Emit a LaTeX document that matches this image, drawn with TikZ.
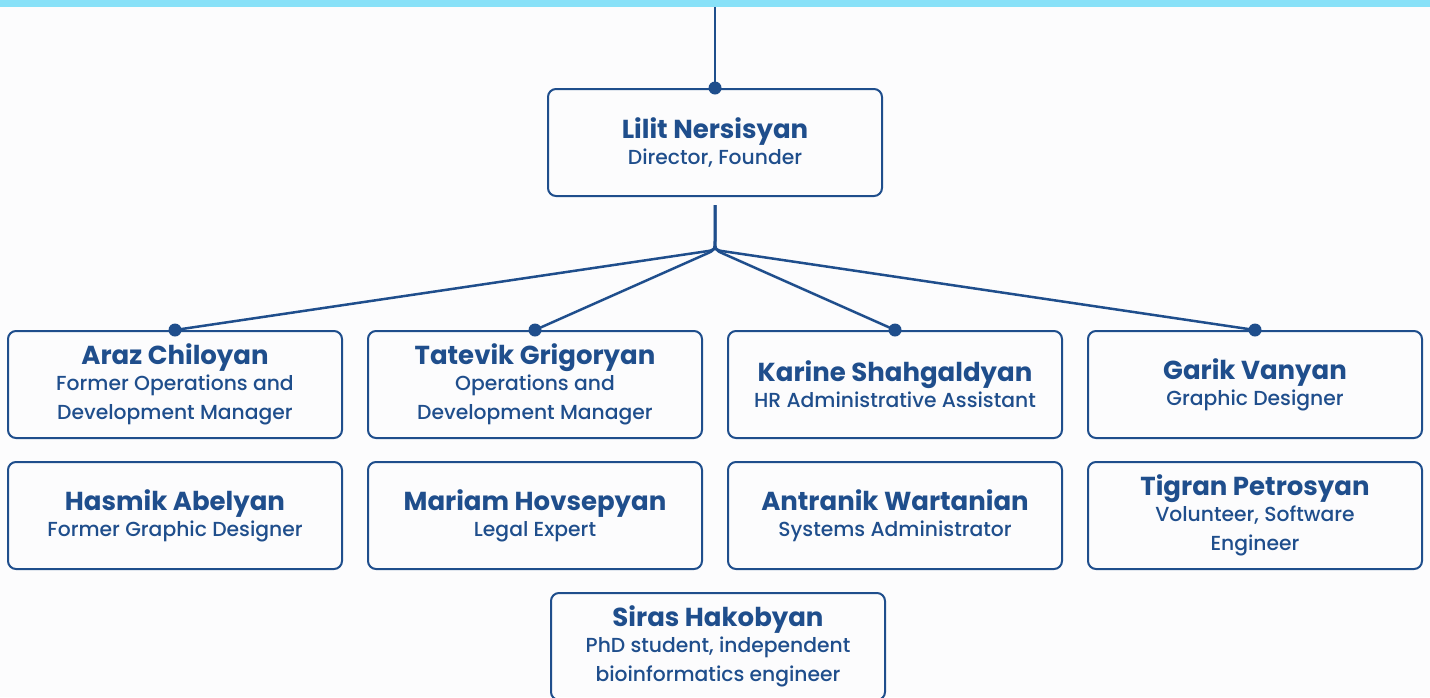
\documentclass[tikz,border=0pt]{standalone}
\usepackage{fontspec}
\setmainfont{Poppins}[UprightFont={Poppins Medium},BoldFont={Poppins Bold}]
\usetikzlibrary{calc}
\definecolor{navy}{HTML}{1F4E8C}
\definecolor{sky}{HTML}{88E1F8}
\definecolor{bg}{HTML}{FCFCFD}
\newcommand\pname[1]{{\fontsize{26}{29}\selectfont\bfseries #1}\\[-3pt]}
\begin{document}
\begin{tikzpicture}[x=1pt,y=-1pt,
  card/.style={draw=navy, line width=2pt, rounded corners=8pt, minimum width=334pt, minimum height=107pt, align=center, text=navy, inner sep=0pt, font=\fontsize{20.3}{29}\selectfont},
  link/.style={draw=navy, line width=2.5pt},
  dot/.style={circle, fill=navy, inner sep=0pt, minimum size=13pt}]
\fill[bg] (0,0) rectangle (1430,697);
\useasboundingbox (0,0) rectangle (1430,697);
\fill[sky] (0,0) rectangle (1430,7);
\coordinate (bar) at (715,7);
\node[card] (top) at (715,142.5) {\pname{Lilit Nersisyan}Director, Founder};
\node[card] (a) at (175,384.5) {\pname{Araz Chiloyan}Former Operations and\\Development Manager};
\node[card] (b) at (535,384.5) {\pname{Tatevik Grigoryan}Operations and\\Development Manager};
\node[card] (c) at (895,384.5) {\pname{Karine Shahgaldyan}HR Administrative Assistant};
\node[card] (d) at (1255,384.5) {\pname{Garik Vanyan}Graphic Designer};
\node[card] (e) at (175,515.5) {\pname{Hasmik Abelyan}Former Graphic Designer};
\node[card] (f) at (535,515.5) {\pname{Mariam Hovsepyan}Legal Expert};
\node[card] (g) at (895,515.5) {\pname{Antranik Wartanian}Systems Administrator};
\node[card] (h) at (1255,515.5) {\pname{Tigran Petrosyan}Volunteer, Software\\Engineer};
\node[card] (s) at (718,646.5) {\pname{Siras Hakobyan}PhD student, independent\\bioinformatics engineer};
\draw[link] (bar) -- (top.north);
\node[dot] at (top.north) {};
\coordinate (jtop) at (715,205);
\coordinate (j) at (715,250);
\foreach \n in {a,b,c,d} {
  \draw[link] (jtop) -- (715,240) .. controls (j) .. ($(j)!10pt!(\n.north)$) -- (\n.north);
  \node[dot] at (\n.north) {};
}
\end{tikzpicture}
\end{document}
